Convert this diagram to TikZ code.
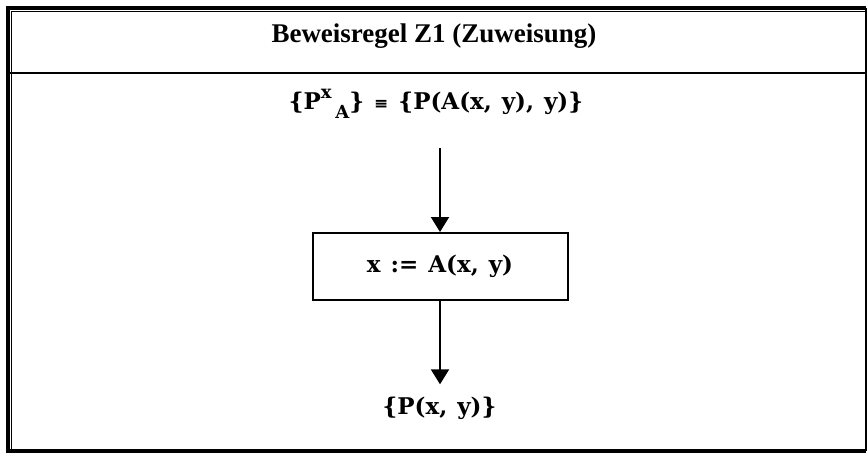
\documentclass[tikz,border=0pt]{standalone}
\usepackage{fontspec}
\setmainfont{Liberation Serif}
\newfontfamily\formfont{DejaVu Serif}
\usetikzlibrary{arrows.meta,calc}
\newcommand{\gap}{\hspace{10pt}}
\tikzset{
  ttl/.style={font=\fontsize{27}{30}\selectfont\bfseries, inner sep=0pt},
  txt/.style={font=\formfont\fontsize{23}{26}\selectfont\bfseries, inner sep=0pt},
  stmt/.style={draw, line width=2pt, minimum width=255pt, minimum height=67pt, inner sep=0pt,
     font=\formfont\fontsize{23}{26}\selectfont\bfseries},
  arr/.style={line width=2pt, -{Triangle[width=18pt,length=15pt]}},
  frameline/.style={line width=3.5pt},
}
\begin{document}
\begin{tikzpicture}[x=1pt,y=-1pt]
\useasboundingbox (0,0) rectangle (868,453);
% outer frame (double line)
\draw[frameline] (866,8) -- (8,8) -- (8,451) -- (866,451);
\draw[line width=1pt] (866,11.5) -- (11.5,11.5) -- (11.5,449);
\draw[line width=1.5pt] (866,8) -- (866,451);
\draw[line width=2.8pt] (8,73) -- (866,73);
% title
\node[ttl] (title) at (434,36) {Beweisregel Z1 (Zuweisung)};
% formula
\node[txt, anchor=base] (form) at (436,109) {\{P\raisebox{0.45em}{\fontsize{18}{20}\selectfont x}\,\raisebox{-0.4em}{\fontsize{18}{20}\selectfont A}\}\gap{\fontsize{17}{20}\selectfont ≡}\gap\{P(A(x,\gap y),\gap y)\}};
\node[stmt] (box) at (440,266.5) {x\gap:=\gap A(x,\gap y)};
\node[txt, anchor=base] (post) at (439.5,414) {\{P(x,\gap y)\}};
\draw[arr] ($(form.south -| box.north)+(0,30)$) -- (box.north);
\draw[arr] (box.south) -- ($(post.north -| box.south)+(0,-12)$);
\end{tikzpicture}
\end{document}
